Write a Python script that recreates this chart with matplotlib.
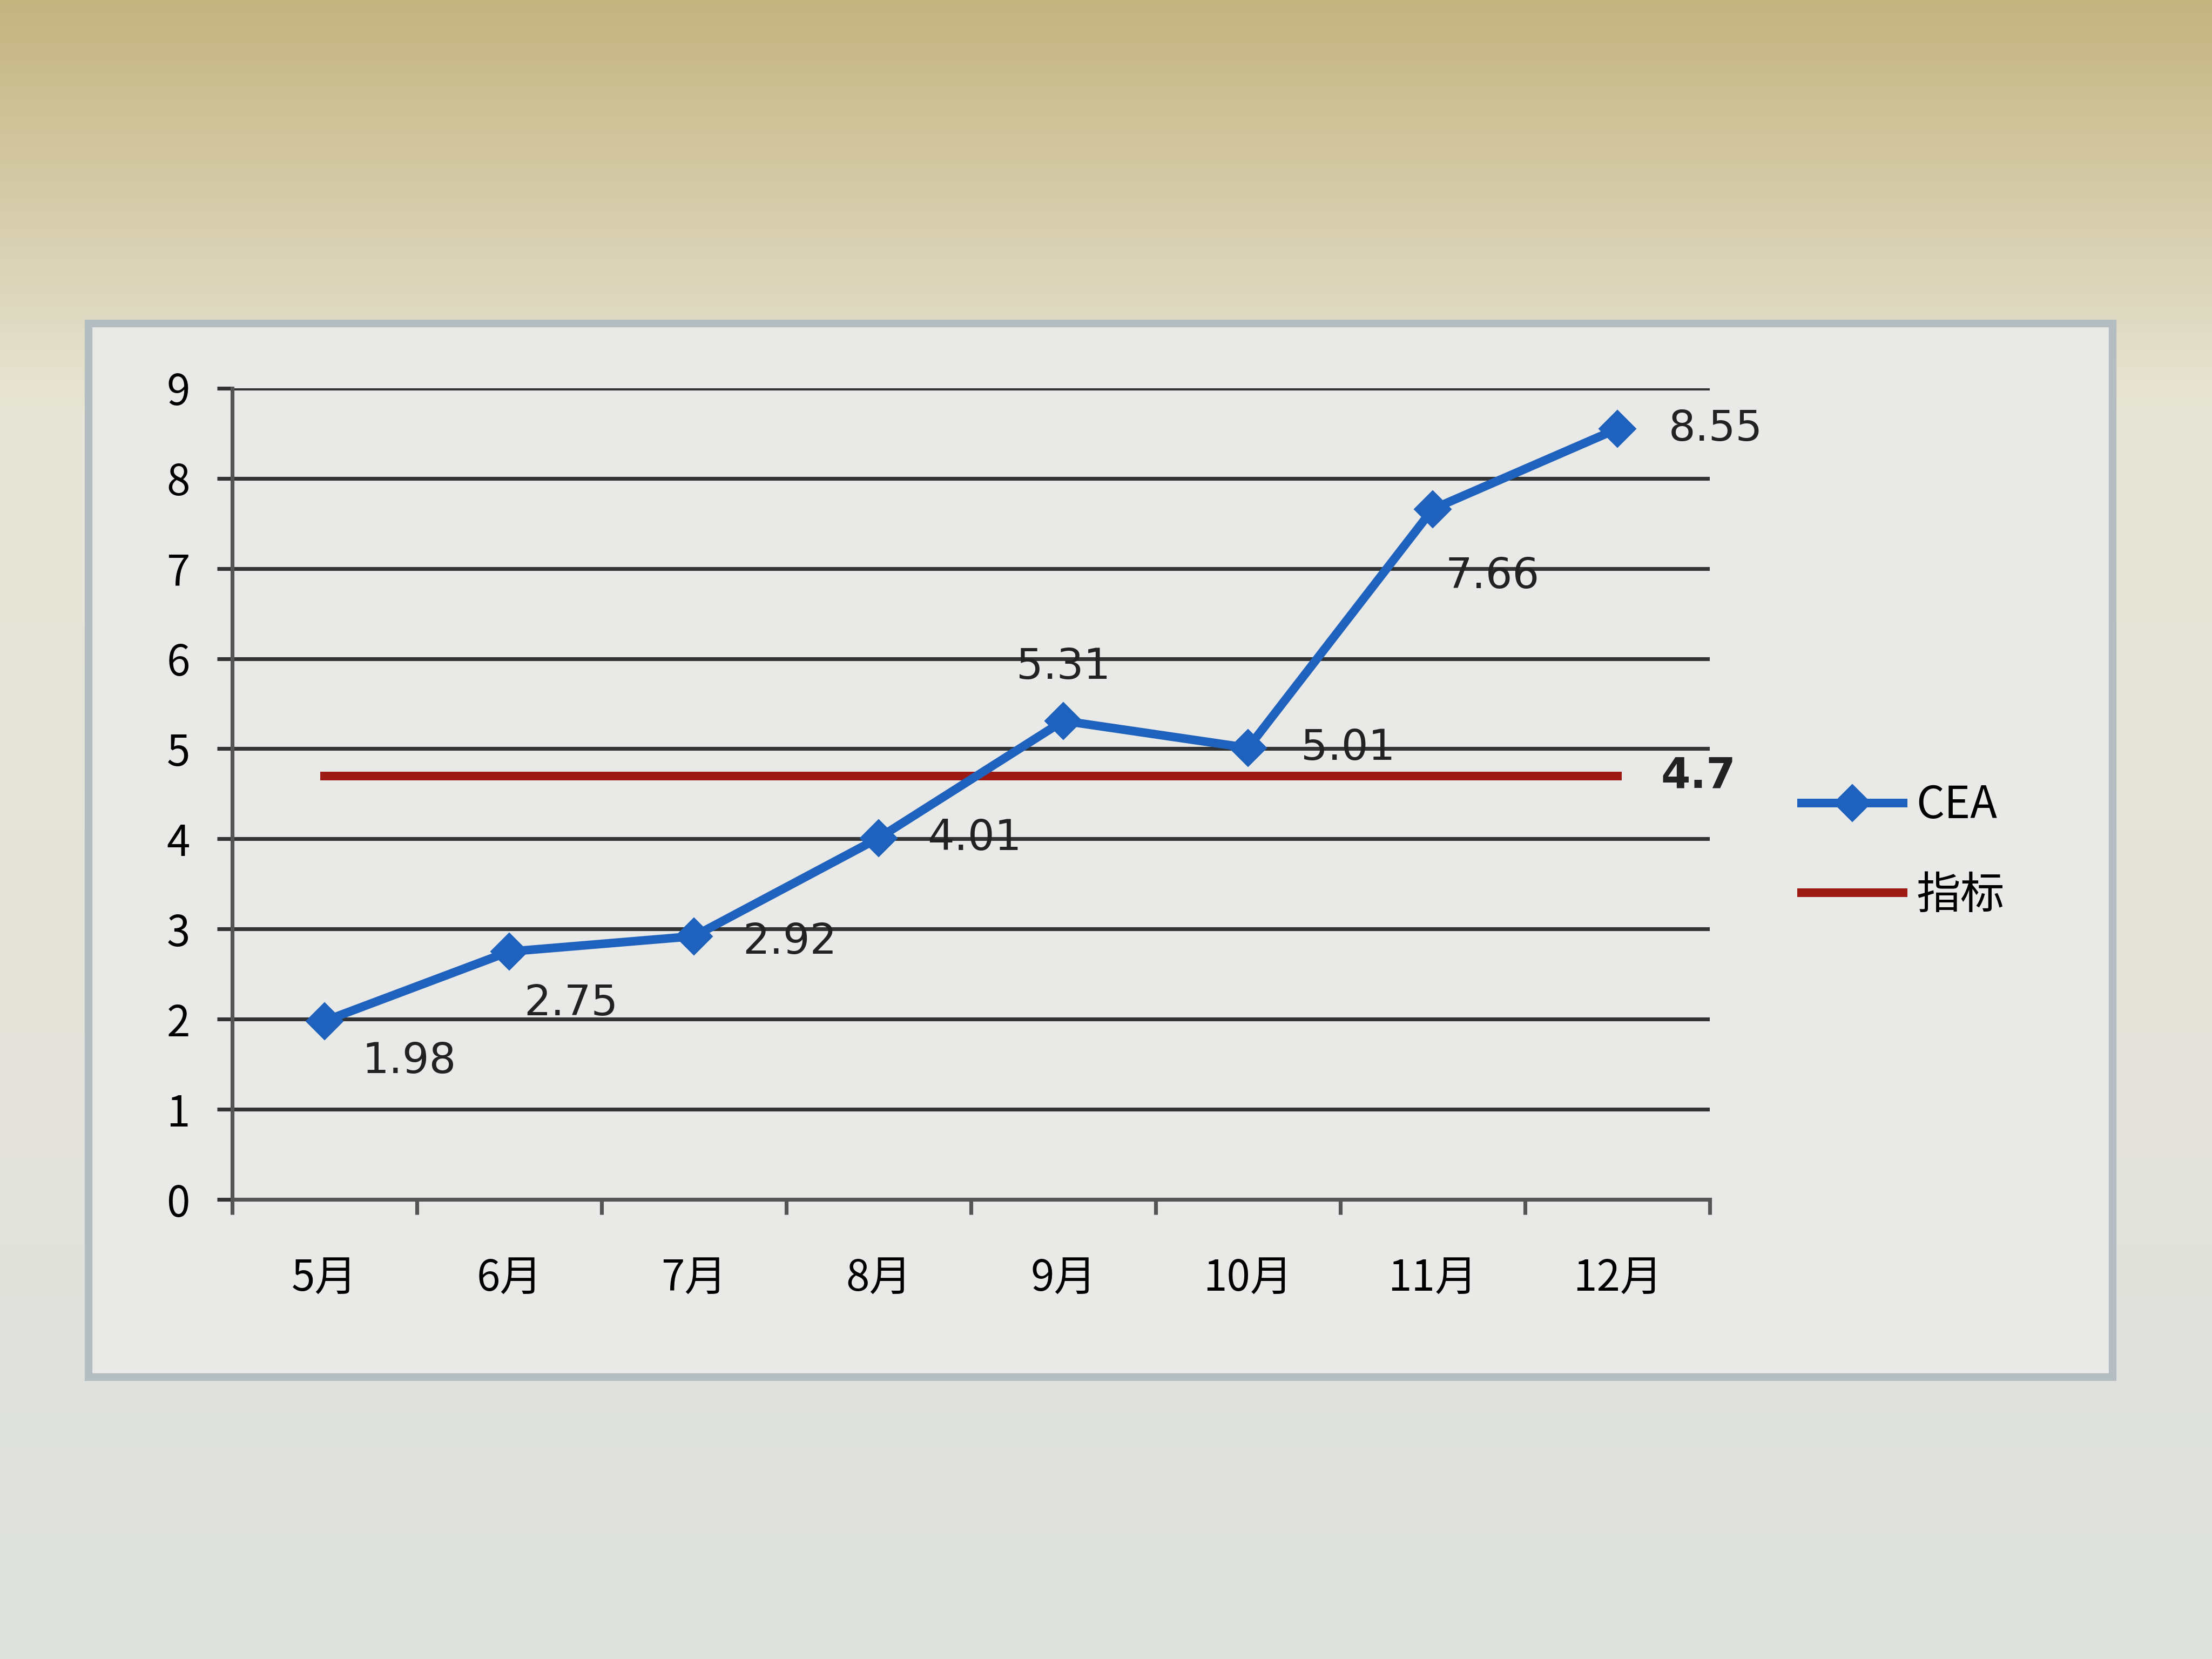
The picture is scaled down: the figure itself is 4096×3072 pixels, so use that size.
import numpy as np
import matplotlib
matplotlib.use('Agg')
import matplotlib.pyplot as plt
from matplotlib.patches import Rectangle

plt.rcParams['font.family'] = ['Noto Sans CJK SC', 'DejaVu Sans']

months = ['5月', '6月', '7月', '8月', '9月', '10月', '11月', '12月']
cea = [1.98, 2.75, 2.92, 4.01, 5.31, 5.01, 7.66, 8.55]
target = [4.7] * len(months)
cea_labels = ['1.98', '2.75', '2.92', '4.01', '5.31', '5.01', '7.66', '8.55']
# label offsets in points (dx, dy), Excel-like placement
label_offsets = [(44, -21), (32, -27), (50, -3), (50, 0), (0, 28), (52, 0), (31, -35), (51, 0)]

fig = plt.figure(figsize=(16, 12), dpi=256)

# background of the photo: warm gradient at top fading to light grey
bg = fig.add_axes([0, 0, 1, 1], zorder=-10)
h = 300
t = np.linspace(0, 1, h)[:, None]
top = np.array([196, 180, 128]) / 255.0
mid = np.array([232, 230, 215]) / 255.0
bot = np.array([222, 224, 222]) / 255.0
w1 = np.clip(t / 0.25, 0, 1)
w2 = np.clip((t - 0.25) / 0.75, 0, 1)
col = np.where(t < 0.25, top * (1 - w1) + mid * w1, mid * (1 - w2) + bot * w2)
img = np.repeat(col[:, None, :], 2, axis=1).reshape(h, 2, 3)
bg.imshow(img, aspect='auto', extent=[0, 1, 0, 1])
bg.set_xlim(0, 1)
bg.set_ylim(0, 1)
bg.axis('off')

# chart frame
bg.add_patch(Rectangle((0.04, 0.17), 0.915, 0.635, facecolor='#e9eae7',
                       edgecolor='#b4bec2', linewidth=4))

ax = fig.add_axes([0.105, 0.277, 0.668, 0.489])
ax.set_facecolor('none')
x = np.arange(len(months))

ax.plot(x, target, color='#9e1a14', linewidth=4.5, label='指标', zorder=3)
ax.plot(x, cea, color='#1f62bd', linewidth=4.5, marker='D', markersize=13,
        label='CEA', zorder=4)

for xi, yi, lab, (dx, dy) in zip(x, cea, cea_labels, label_offsets):
    ax.annotate(lab, (xi, yi), xytext=(dx, dy), textcoords='offset points',
                ha='center', va='center', fontsize=22, color='#222222',
                family=['DejaVu Sans'])
ax.annotate('4.7', (x[-1], target[-1]), xytext=(42, 0), textcoords='offset points',
            ha='center', va='center', fontsize=22, color='#222222', fontweight='bold',
            family=['DejaVu Sans'])

ax.set_xlim(-0.5, len(months) - 0.5)
ax.set_ylim(0, 9)
ax.set_yticks(range(0, 10))
ax.set_xticks(x)
ax.set_xticklabels(months)
ax.set_xticks(np.arange(-0.5, len(months), 1), minor=True)
ax.tick_params(axis='x', which='major', length=0, pad=30, labelsize=22)
ax.tick_params(axis='x', which='minor', length=8, width=2, color='#555555')
ax.tick_params(axis='y', length=8, width=2, pad=14, labelsize=22, color='#333333')
ax.grid(axis='y', color='#333333', linewidth=2)
ax.set_axisbelow(True)
for s in ['top', 'right']:
    ax.spines[s].set_visible(False)
for s in ['left', 'bottom']:
    ax.spines[s].set_color('#555555')
    ax.spines[s].set_linewidth(2)

handles, labels = ax.get_legend_handles_labels()
ax.legend(handles[::-1], labels[::-1], loc='center left', bbox_to_anchor=(1.035, 0.43),
          frameon=False, fontsize=23, handlelength=2.3, handletextpad=0.3,
          labelspacing=1.0)

fig.savefig('out.png', dpi=256)
